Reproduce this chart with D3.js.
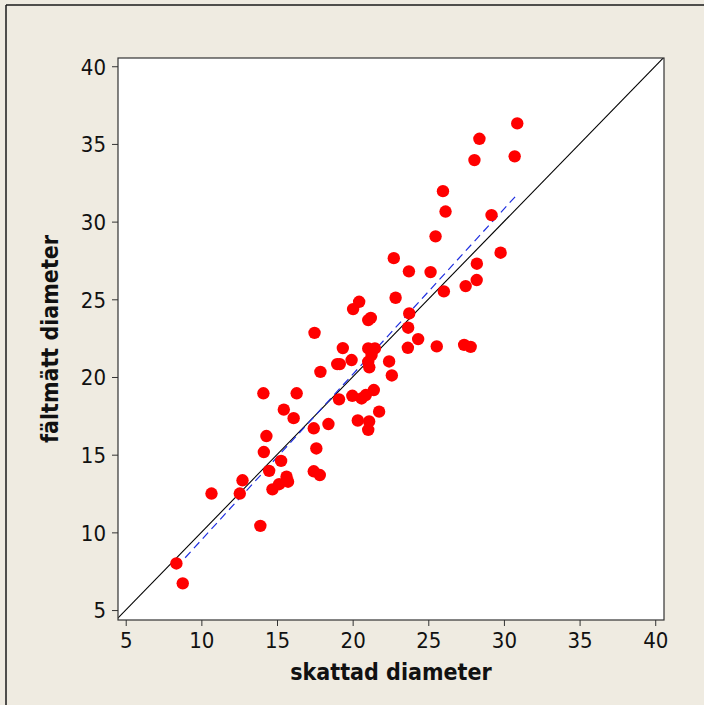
<!DOCTYPE html>
<html>
<head>
<meta charset="utf-8">
<script src="https://cdn.jsdelivr.net/npm/d3@7"></script>
<style>
  body { margin: 0; background: #efebe1; }
  svg { display: block; }
  .tick text { font-family: "DejaVu Sans Condensed", "DejaVu Sans", sans-serif; font-size: 22px; fill: #111; }
  .tick line { stroke: #333; }
  .title { font-family: "DejaVu Sans Condensed", "DejaVu Sans", sans-serif; font-weight: bold; font-size: 23px; fill: #111; }
</style>
</head>
<body>
<div id="vis"></div>
<script>
var margin = {top: 58, right: 40, bottom: 85, left: 118},
    width = 704 - margin.left - margin.right,
    height = 705 - margin.top - margin.bottom;

// skattad diameter (x) och fältmätt diameter (y)
var skattad = [8.35, 8.77, 10.67, 12.54, 12.72, 13.9, 14.1, 14.13, 14.3, 14.48,
  14.7, 15.14, 15.27, 15.45, 15.63, 15.73, 16.1, 16.3, 17.43, 17.43,
  17.48, 17.6, 17.83, 17.87, 18.4, 18.98, 19.15, 19.1, 19.35, 19.93,
  19.98, 20.03, 20.43, 20.34, 20.59, 20.87, 21.03, 21.2, 21.03, 21.47,
  21.25, 21.03, 21.1, 21.09, 21.03, 21.4, 21.75, 22.41, 22.59, 22.72,
  22.84, 23.65, 23.67, 23.74, 23.72, 24.33, 25.15, 25.48, 25.56, 25.97,
  26.03, 26.14, 27.37, 27.8, 27.47, 28.05, 28.2, 28.21, 28.38, 29.18,
  29.78, 30.71, 30.88]
var faltmatt = [8.0, 6.72, 12.5, 12.5, 13.35, 10.42, 18.95, 15.17, 16.2, 13.96,
  12.77, 13.1, 14.6, 17.9, 13.58, 13.26, 17.35, 18.95, 16.7, 13.93,
  22.84, 15.4, 13.69, 20.33, 16.97, 20.83, 20.83, 18.56, 21.86, 21.09,
  18.79, 24.37, 24.84, 17.2, 18.62, 18.84, 23.66, 23.8, 21.84, 21.84,
  21.41, 20.98, 20.62, 17.14, 16.6, 19.16, 17.77, 21.0, 20.1, 27.65,
  25.1, 21.88, 23.17, 24.09, 26.8, 22.44, 26.75, 29.05, 21.97, 31.96,
  25.51, 30.65, 22.07, 21.94, 25.85, 33.96, 26.24, 27.29, 35.33, 30.42,
  28.0, 34.2, 36.32]

// anpassad linje (streckad), ändpunkter avlästa
var fitX = [8.35, 30.88]
var fitY = [7.75, 31.75]

var ticks = [5, 10, 15, 20, 25, 30, 35, 40]

var x = d3.scaleLinear().domain([4.49, 40.58]).range([0, width])
var y = d3.scaleLinear().domain([4.36, 40.53]).range([height, 0])

var root = d3.select("#vis").append("svg")
    .attr("width", 704)
    .attr("height", 705)

// ram runt grafen (bara vänster och topp syns)
root.append("line").attr("x1", 6).attr("x2", 6).attr("y1", 5).attr("y2", 705)
    .attr("stroke", "#1a1a1a").attr("stroke-width", 1.5)
root.append("line").attr("x1", 6).attr("x2", 704).attr("y1", 5).attr("y2", 5)
    .attr("stroke", "#1a1a1a").attr("stroke-width", 1.5)

var svg = root.append("g")
    .attr("transform", "translate(" + margin.left + "," + margin.top + ")")

svg.append("rect")
    .attr("width", width)
    .attr("height", height)
    .attr("fill", "#fff")

svg.append("clipPath").attr("id", "clip")
  .append("rect").attr("width", width).attr("height", height)

var xAxis = svg.append("g")
    .attr("transform", "translate(0," + height + ")")
    .call(d3.axisBottom(x).tickValues(ticks).tickSize(6).tickSizeOuter(0).tickPadding(6))
xAxis.select(".domain").remove()

var yAxis = svg.append("g")
    .call(d3.axisLeft(y).tickValues(ticks).tickSize(6).tickSizeOuter(0).tickPadding(6))
yAxis.select(".domain").remove()
yAxis.selectAll("text").attr("dy", "0.36em")

var plot = svg.append("g").attr("clip-path", "url(#clip)")

// y = x
plot.append("line")
    .attr("x1", x(4.36)).attr("y1", y(4.36))
    .attr("x2", x(40.58)).attr("y2", y(40.58))
    .attr("stroke", "#000")
    .attr("stroke-width", 1.1)

plot.append("line")
    .attr("x1", x(fitX[0])).attr("y1", y(fitY[0]))
    .attr("x2", x(fitX[1])).attr("y2", y(fitY[1]))
    .attr("stroke", "#1f2fe0")
    .attr("stroke-width", 1.2)
    .attr("stroke-dasharray", "8,5")

plot.selectAll("circle")
    .data(skattad)
    .enter()
    .append("circle")
    .attr("cx", function(d) { return x(d) })
    .attr("cy", function(d, i) { return y(faltmatt[i]) })
    .attr("r", 6.2)
    .attr("fill", "#ff0000")

svg.append("rect")
    .attr("width", width)
    .attr("height", height)
    .attr("fill", "none")
    .attr("stroke", "#333")
    .attr("stroke-width", 1.2)

svg.append("text")
    .attr("class", "title")
    .attr("x", width / 2)
    .attr("y", height + 60)
    .attr("text-anchor", "middle")
    .text("skattad diameter")

svg.append("text")
    .attr("class", "title")
    .attr("transform", "translate(" + (58 - margin.left) + "," + (height / 2) + ") rotate(-90)")
    .attr("text-anchor", "middle")
    .text("fältmätt diameter")
</script>
</body>
</html>
